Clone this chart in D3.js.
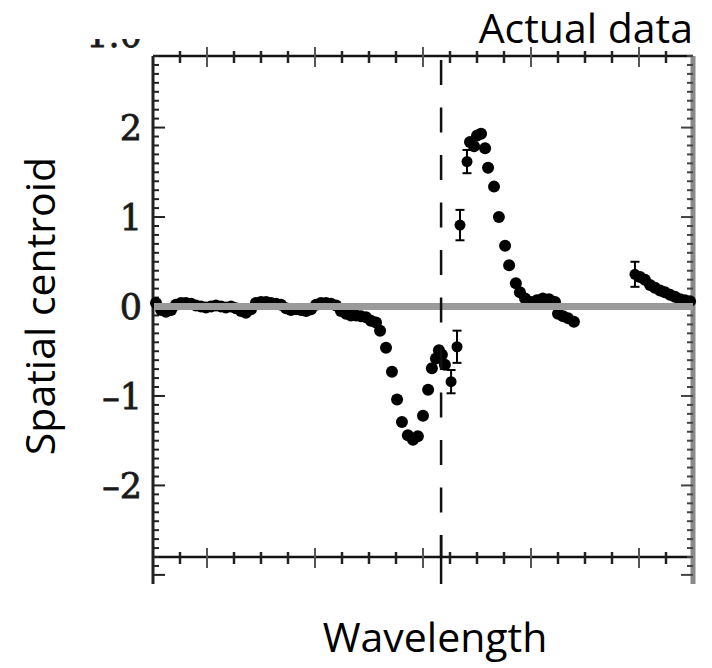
<!DOCTYPE html>
<html lang="en">
<head>
<meta charset="UTF-8">
<title>Spatial centroid</title>
<script src="https://d3js.org/d3.v7.min.js"></script>
<style>
    body { margin: 0; background: #fff; }
    svg { display: block; }
    .title { font-family: 'Open Sans', sans-serif; font-size: 41px; fill: #000; }
    .ticklabel { font-family: 'DejaVu Serif', serif; font-size: 35px; fill: #1a1a1a; stroke: #1a1a1a; stroke-width: 0.8px; }
</style>
</head>
<body>
<svg id="chart" width="712" height="668"></svg>
<script>
// wavelength in tick units (20 minor ticks across the frame), centroid in arbitrary units
const wave = [
    0.11, 0.30, 0.48, 0.67, 0.85, 1.04, 1.22, 1.41, 1.59, 1.78, 1.96, 2.15, 2.33, 2.52, 2.70,
    2.89, 3.07, 3.26, 3.44, 3.63, 3.81, 4.00, 4.19, 4.37, 4.56, 4.74, 4.93, 5.11, 5.30, 5.48,
    5.67, 5.85, 6.04, 6.22, 6.41, 6.59, 6.78, 6.96, 7.15, 7.33, 7.52, 7.70, 7.89, 8.07, 8.26,
    8.41, 8.63, 8.85, 9.04, 9.22, 9.44, 9.63, 9.81, 10.00, 10.19, 10.33, 10.48, 10.59, 10.70,
    10.81, 11.74, 11.89, 12.00, 12.15, 12.30, 12.41, 12.63, 12.81, 13.04, 13.19, 13.44, 13.59,
    13.78, 14.00, 14.22, 14.44, 14.67, 14.89, 15.00, 15.19, 15.37, 15.59, 18.04, 18.22, 18.41,
    18.59, 18.78, 18.96, 19.15, 19.33, 19.52, 19.70, 19.89
];
const centroid = [
    0.04, -0.04, -0.06, -0.04, 0.02, 0.04, 0.04, 0.03, 0.01, 0.00, -0.01, 0.00, 0.01, 0.00, -0.01,
    0.00, -0.02, -0.05, -0.07, -0.03, 0.04, 0.05, 0.05, 0.04, 0.03, 0.02, -0.02, -0.04, -0.03, -0.04,
    -0.05, -0.03, 0.02, 0.04, 0.04, 0.03, 0.01, -0.05, -0.08, -0.10, -0.10, -0.11, -0.12, -0.16, -0.18,
    -0.27, -0.46, -0.73, -1.04, -1.29, -1.44, -1.49, -1.45, -1.22, -0.93, -0.69, -0.58, -0.49, -0.54,
    -0.65, 1.84, 1.79, 1.91, 1.93, 1.77, 1.55, 1.34, 1.00, 0.68, 0.46, 0.26, 0.16,
    0.09, 0.05, 0.07, 0.09, 0.08, 0.05, -0.08, -0.11, -0.13, -0.17, 0.33, 0.30, 0.24,
    0.21, 0.18, 0.16, 0.13, 0.11, 0.08, 0.07, 0.06
];
// points drawn with error bars
const errWave = [11.04, 11.26, 11.37, 11.63, 17.85];
const errCentroid = [-0.84, -0.45, 0.91, 1.62, 0.36];
const errSize = [0.13, 0.18, 0.17, 0.13, 0.14];

const yTickValues = [-2, -1, 0, 1, 2];
const xMajorTicks = [2, 6, 10, 14, 18];
const lineCentre = 10.67;

const svg = d3.select("#chart");
const frameL = 153, frameR = 693, frameT = 56, frameB = 557;

const x = d3.scaleLinear().domain([0, 20]).range([frameL, frameR]);
const y = d3.scaleLinear().domain([-2.8, 2.8]).range([frameB, frameT]);
const yLow = y.invert(584); // side axes run past the cropped bottom

const xMinor = d3.range(1, 20);
const yMinor = d3.range(-30, 29).map(d => d / 10);
const isMajorY = d => Math.abs(d - Math.round(d)) < 1e-9;

// frame: top and bottom lines
[frameT, frameB].forEach(yy => {
    svg.append("line")
        .attr("x1", frameL).attr("x2", frameR).attr("y1", yy).attr("y2", yy)
        .attr("stroke", "#111").attr("stroke-width", 2.5);
});

// x ticks on both horizontal lines
const xTickG = svg.append("g");
[frameT, frameB].forEach(yy => {
    xTickG.selectAll(null)
        .data(xMinor)
        .enter()
        .append("line")
        .attr("x1", d => x(d)).attr("x2", d => x(d))
        .attr("y1", d => xMajorTicks.includes(d) ? yy - 9 : yy - 5)
        .attr("y2", d => xMajorTicks.includes(d) ? yy + 11 : yy + 7)
        .attr("stroke", d => xMajorTicks.includes(d) ? "#555" : "#222")
        .attr("stroke-width", d => xMajorTicks.includes(d) ? 2 : 2.5);
});

// left axis
svg.append("line")
    .attr("x1", frameL).attr("x2", frameL).attr("y1", frameT).attr("y2", y(yLow))
    .attr("stroke", "#222").attr("stroke-width", 3);
svg.append("g").selectAll("line")
    .data(yMinor)
    .enter()
    .append("line")
    .attr("x1", frameL)
    .attr("x2", d => isMajorY(d) ? frameL + 12 : frameL + 6)
    .attr("y1", d => y(d)).attr("y2", d => y(d))
    .attr("stroke", "#222").attr("stroke-width", 2);

// right axis (grey)
svg.append("line")
    .attr("x1", frameR).attr("x2", frameR).attr("y1", frameT).attr("y2", y(yLow))
    .attr("stroke", "#8a8a8a").attr("stroke-width", 5);
svg.append("g").selectAll("line")
    .data(yMinor)
    .enter()
    .append("line")
    .attr("x1", frameR)
    .attr("x2", d => isMajorY(d) ? frameR - 12 : frameR - 6)
    .attr("y1", d => y(d)).attr("y2", d => y(d))
    .attr("stroke", "#444").attr("stroke-width", 2);

// y tick labels
svg.append("g").selectAll("text")
    .data(yTickValues)
    .enter()
    .append("text")
    .attr("class", "ticklabel")
    .attr("x", 142)
    .attr("y", d => y(d))
    .attr("dy", "0.36em")
    .attr("text-anchor", "end")
    .text(d => d < 0 ? "–" + Math.abs(d) : d);

// cropped label from the panel above
svg.append("clipPath").attr("id", "cropTop")
    .append("rect").attr("x", 90).attr("y", 39).attr("width", 60).attr("height", 12);
svg.append("text")
    .attr("class", "ticklabel")
    .attr("clip-path", "url(#cropTop)")
    .attr("x", 142).attr("y", 47)
    .attr("text-anchor", "end")
    .text("1.0");

// data points
svg.append("g").selectAll("circle")
    .data(wave.map((w, i) => [w, centroid[i]]))
    .enter()
    .append("circle")
    .attr("cx", d => x(d[0]))
    .attr("cy", d => y(d[1]))
    .attr("r", 6)
    .attr("fill", "#000");

// points with error bars
const eb = svg.append("g");
errWave.forEach((w, i) => {
    const cx = x(w), lo = y(errCentroid[i] - errSize[i]), hi = y(errCentroid[i] + errSize[i]);
    eb.append("line").attr("x1", cx).attr("x2", cx).attr("y1", lo).attr("y2", hi)
        .attr("stroke", "#000").attr("stroke-width", 2);
    [lo, hi].forEach(yy => {
        eb.append("line").attr("x1", cx - 4.5).attr("x2", cx + 4.5).attr("y1", yy).attr("y2", yy)
            .attr("stroke", "#000").attr("stroke-width", 2);
    });
    eb.append("circle").attr("cx", cx).attr("cy", y(errCentroid[i])).attr("r", 5.5).attr("fill", "#000");
});

// zero line drawn over the points
svg.append("line")
    .attr("x1", frameL + 1).attr("x2", frameR)
    .attr("y1", y(0)).attr("y2", y(0))
    .attr("stroke", "#9a9a9a").attr("stroke-width", 7);

// dashed line at line centre, solid where it leaves the frame
const lx = x(lineCentre);
svg.append("line")
    .attr("x1", lx).attr("x2", lx)
    .attr("y1", frameT + 4).attr("y2", frameB)
    .attr("stroke", "#111").attr("stroke-width", 2.5)
    .attr("stroke-dasharray", "25,22.5");
svg.append("line")
    .attr("x1", lx).attr("x2", lx)
    .attr("y1", frameB - 22).attr("y2", y(yLow))
    .attr("stroke", "#111").attr("stroke-width", 2.5);

// texts
svg.append("text").attr("class", "title")
    .attr("x", 693).attr("y", 43).attr("text-anchor", "end")
    .text("Actual data");

svg.append("text").attr("class", "title")
    .attr("x", 435).attr("y", 652).attr("text-anchor", "middle")
    .text("Wavelength");

svg.append("text").attr("class", "title")
    .attr("transform", "translate(55,306) rotate(-90)")
    .attr("text-anchor", "middle")
    .text("Spatial centroid");
</script>
</body>
</html>
